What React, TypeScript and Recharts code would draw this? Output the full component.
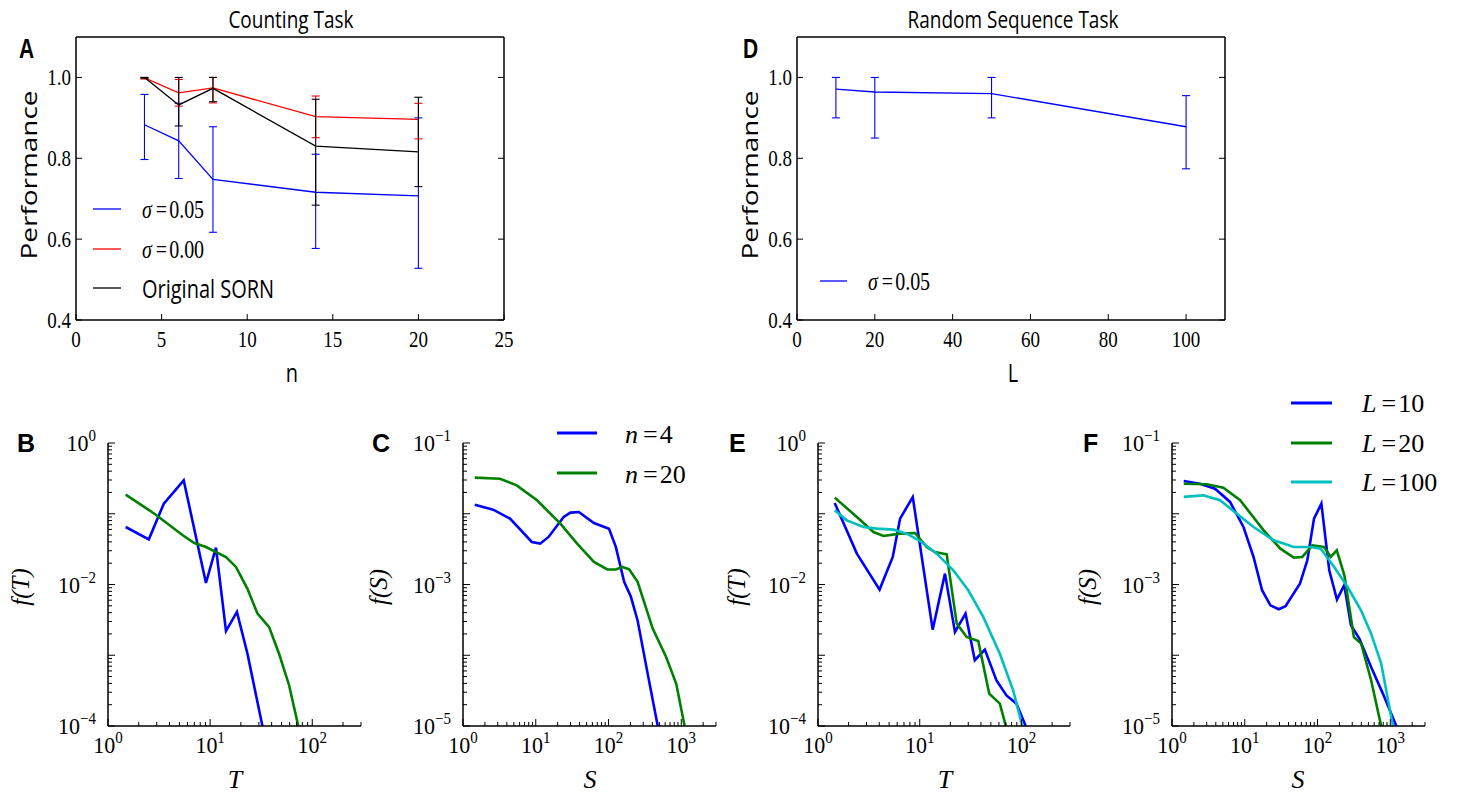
import React from 'react';
import { LineChart, Line, XAxis, YAxis, ErrorBar } from 'recharts';

const SERIF = '"Liberation Serif", "DejaVu Serif", serif';
const SANS = '"Open Sans", "DejaVu Sans", sans-serif';
const BOLD = '"Liberation Sans", Arial, sans-serif';

const BLUE = '#0000ff';
const RED = '#ff0000';
const GREEN = '#008000';
const CYAN = '#00bfbf';

// ---- panel A: counting task
const countN = [4, 6, 8, 14, 20];
const perfSigma005 = [0.883, 0.843, 0.748, 0.716, 0.707];
const errLoSigma005 = [0.086, 0.093, 0.131, 0.139, 0.179];
const errHiSigma005 = [0.075, 0.093, 0.13, 0.094, 0.193];
const perfSigma000 = [0.999, 0.962, 0.974, 0.903, 0.896];
const errLoSigma000 = [0.003, 0.033, 0.037, 0.052, 0.048];
const errHiSigma000 = [0.001, 0.033, 0.026, 0.051, 0.04];
const perfOriginal = [1.0, 0.932, 0.973, 0.83, 0.816];
const errLoOriginal = [0.002, 0.052, 0.033, 0.146, 0.086];
const errHiOriginal = [0.0, 0.068, 0.027, 0.116, 0.135];
const countTicks = [0, 5, 10, 15, 20, 25];

// ---- panel D: random sequence task
const seqL = [10, 20, 50, 100];
const perfSeq = [0.971, 0.964, 0.96, 0.878];
const errLoSeq = [0.071, 0.114, 0.06, 0.104];
const errHiSeq = [0.029, 0.036, 0.04, 0.077];
const seqTicks = [0, 20, 40, 60, 80, 100];

const perfTicks = [0.4, 0.6, 0.8, 1.0];

// ---- panel B: durations, counting
const durT_n4 = [1.49, 2.51, 3.52, 5.51, 9.1, 11.4, 14.3, 18.3, 23.2, 32.5];
const durF_n4 = [0.065, 0.0435, 0.139, 0.297, 0.0105, 0.0332, 0.0022, 0.0041, 0.00105, 0.0001];
const durT_n20 = [1.49, 2.85, 5.39, 7.0, 9.1, 14.3, 17.9, 23.2, 29.1, 37.8, 47.3, 59.2, 73];
const durF_n20 = [0.186, 0.1, 0.0496, 0.0386, 0.0339, 0.0245, 0.0177, 0.0087, 0.00387, 0.0025, 0.00105, 0.00038, 0.0001];

// ---- panel C: sizes, counting
const sizeS_n4 = [1.45, 2.6, 4.43, 8.83, 11.5, 15.0, 24.2, 30, 39.1, 63, 101.6, 126, 164, 203, 251, 345, 475];
const sizeF_n4 = [0.01345, 0.0114, 0.00853, 0.00399, 0.00378, 0.0047, 0.009, 0.01037, 0.0106, 0.0074, 0.00615, 0.0034, 0.00109, 0.00067, 0.00031, 0.000055, 0.00001];
const sizeS_n20 = [1.45, 3.22, 5.47, 10.4, 21.8, 37, 63, 96.5, 126, 155, 192, 251, 405, 619, 851, 1111];
const sizeF_n20 = [0.0324, 0.0313, 0.0252, 0.0155, 0.00724, 0.00378, 0.00209, 0.00163, 0.00163, 0.00177, 0.00164, 0.00109, 0.000238, 0.0000946, 0.0000398, 0.00001];

// ---- panel E: durations, random sequence
const durT_L10 = [1.46, 2.41, 4.03, 5.43, 6.41, 8.54, 13.4, 17.7, 22.2, 28.2, 34.8, 43.7, 56.8, 71.2, 89.3, 110];
const durF_L10 = [0.142, 0.0273, 0.00847, 0.0245, 0.0853, 0.1726, 0.0023, 0.01425, 0.00213, 0.00387, 0.00085, 0.0012, 0.00044, 0.00027, 0.000207, 0.0001];
const durT_L20 = [1.46, 2.41, 3.51, 4.4, 6.41, 9.0, 11.7, 14.1, 18.4, 23.1, 28.9, 37.6, 48.2, 61.3, 70.2];
const durF_L20 = [0.169, 0.09, 0.0552, 0.0485, 0.0524, 0.0535, 0.0339, 0.0288, 0.0267, 0.0028, 0.00181, 0.00159, 0.000287, 0.000207, 0.0001];
const durT_L100 = [1.46, 1.92, 2.8, 3.79, 5.52, 7.46, 10.1, 14.7, 21.4, 30, 42.1, 61.3, 82.8, 102];
const durF_L100 = [0.112, 0.0807, 0.065, 0.0616, 0.0596, 0.0524, 0.0412, 0.0273, 0.0159, 0.00828, 0.00348, 0.00105, 0.00032, 0.0001];

// ---- panel F: sizes, random sequence
const sizeS_L10 = [1.45, 2.42, 3.9, 6.28, 9.6, 13.2, 17.3, 22.5, 29.3, 36.3, 57.3, 72.4, 89.5, 113, 145, 185, 233, 288, 376, 545, 791, 1210];
const sizeF_L10 = [0.029, 0.0266, 0.0226, 0.0147, 0.0065, 0.00245, 0.00083, 0.000508, 0.000447, 0.000492, 0.00103, 0.0022, 0.00853, 0.0139, 0.00159, 0.00061, 0.00098, 0.000265, 0.000172, 0.0000684, 0.0000287, 0.00001];
const sizeS_L20 = [1.45, 2.99, 5.08, 8.65, 18.2, 30.9, 47.3, 61.6, 85, 123, 152, 184, 234, 316, 398, 545, 750];
const sizeF_L20 = [0.0266, 0.0261, 0.0234, 0.0155, 0.00583, 0.00321, 0.0024, 0.00245, 0.00358, 0.00339, 0.00245, 0.00304, 0.00135, 0.000181, 0.000146, 0.0000443, 0.00001];
const sizeS_L100 = [1.45, 2.69, 4.57, 7.78, 13.2, 25, 47.3, 80.5, 111, 169, 259, 396, 545, 750, 1087];
const sizeF_L100 = [0.0173, 0.0182, 0.0155, 0.01, 0.0065, 0.00421, 0.00339, 0.00339, 0.00321, 0.00177, 0.00092, 0.000432, 0.000202, 0.0000762, 0.00001];

const withErr = (xs: number[], ys: number[], lo: number[], hi: number[]) =>
  xs.map((x, i) => ({ x, y: ys[i], err: [lo[i], hi[i]] }));
const pts = (xs: number[], ys: number[]) => xs.map((x, i) => ({ x, y: ys[i] }));

// all 1..9 x 10^k ticks inside a log domain
function logTicks(lo: number, hi: number) {
  const out: number[] = [];
  for (let e = Math.floor(Math.log10(lo)); e <= Math.ceil(Math.log10(hi)); e++) {
    for (let m = 1; m < 10; m++) {
      const v = m * Math.pow(10, e);
      if (v >= lo * 0.999 && v <= hi * 1.001) out.push(v);
    }
  }
  return out;
}
const isDecade = (v: number) => Math.abs(Math.log10(v) - Math.round(Math.log10(v))) < 1e-6;
const expOf = (v: number) => Math.round(Math.log10(v));
const expStr = (v: number) => {
  const e = expOf(v);
  return e < 0 ? '\u2212' + Math.abs(e) : String(e);
};

const axisLine = { stroke: '#000', strokeWidth: 1.5 };

// --- tick renderers (inward ticks, matplotlib classic style)
const LinBottomTick = (p: any) => (
  <g>
    <line x1={p.x} x2={p.x} y1={p.y} y2={p.y - 6} stroke="#000" />
    <text transform={`translate(${p.x},${p.y + 27}) scale(1,1.25)`} textAnchor="middle" fontFamily={SERIF} fontSize={19} fill="#000">
      {p.payload.value}
    </text>
  </g>
);
const LinTopTick = (p: any) => <line x1={p.x} x2={p.x} y1={p.y} y2={p.y + 6} stroke="#000" />;
const LinLeftTick = (p: any) => (
  <g>
    <line x1={p.x} x2={p.x + 6} y1={p.y} y2={p.y} stroke="#000" />
    <text transform={`translate(${p.x - 5},${p.y + 8}) scale(1,1.25)`} textAnchor="end" fontFamily={SERIF} fontSize={19} fill="#000">
      {Number(p.payload.value).toFixed(1)}
    </text>
  </g>
);
const LinRightTick = (p: any) => <line x1={p.x} x2={p.x - 6} y1={p.y} y2={p.y} stroke="#000" />;

const LogBottomTick = (p: any) => {
  const major = isDecade(p.payload.value);
  return (
    <g>
      <line x1={p.x} x2={p.x} y1={p.y} y2={p.y - (major ? 7 : 4)} stroke="#000" />
      {major && (
        <text transform={`translate(${p.x},${p.y + 27}) scale(1,1.08)`} textAnchor="middle" fontFamily={SERIF} fontSize={22} fill="#000">
          10<tspan dy={-9} fontSize={15}>{expStr(p.payload.value)}</tspan>
        </text>
      )}
    </g>
  );
};
const LogLeftTick = (p: any) => {
  const major = isDecade(p.payload.value);
  const labelled = major && Math.abs(expOf(p.payload.value) - p.baseExp) % 2 === 0;
  return (
    <g>
      <line x1={p.x} x2={p.x + (major ? 7 : 4)} y1={p.y} y2={p.y} stroke="#000" />
      {labelled && (
        <text transform={`translate(${p.x - 12},${p.y + 8}) scale(1,1.08)`} textAnchor="end" fontFamily={SERIF} fontSize={22} fill="#000">
          10<tspan dy={-9} fontSize={15}>{expStr(p.payload.value)}</tspan>
        </text>
      )}
    </g>
  );
};

type Series = { data: any[]; color: string };

function PerfPanel({ left, width, yAxisWidth, rightMargin, xDomain, xTicks, series }: any) {
  return (
    <div style={{ position: 'absolute', left, top: 0 }}>
      <LineChart width={width} height={390} margin={{ top: 36, right: rightMargin - 1, bottom: 0, left: 0 }}>
        <XAxis xAxisId="b" dataKey="x" type="number" domain={xDomain} ticks={xTicks} interval={0} allowDataOverflow
          tickSize={0} tickMargin={0} height={70} axisLine={axisLine} tick={(p: any) => <LinBottomTick {...p} />} />
        <XAxis xAxisId="t" orientation="top" type="number" domain={xDomain} ticks={xTicks} interval={0} allowDataOverflow
          tickSize={0} tickMargin={0} height={1} axisLine={axisLine} tick={(p: any) => <LinTopTick {...p} />} />
        <YAxis yAxisId="l" type="number" domain={[0.4, 1.1]} ticks={perfTicks} interval={0} allowDataOverflow
          tickSize={0} tickMargin={0} width={yAxisWidth} axisLine={axisLine} tick={(p: any) => <LinLeftTick {...p} />} />
        <YAxis yAxisId="r" orientation="right" type="number" domain={[0.4, 1.1]} ticks={perfTicks} interval={0} allowDataOverflow
          tickSize={0} tickMargin={0} width={1} axisLine={axisLine} tick={(p: any) => <LinRightTick {...p} />} />
        {series.map((s: Series, i: number) => (
          <Line key={i} xAxisId="b" yAxisId="l" data={s.data} dataKey="y" stroke={s.color} strokeWidth={1.3}
            dot={false} activeDot={false} isAnimationActive={false}>
            <ErrorBar dataKey="err" direction="y" width={4} stroke={s.color} strokeWidth={1.1} isAnimationActive={false} />
          </Line>
        ))}
      </LineChart>
    </div>
  );
}

function LogPanel({ left, width, yAxisWidth, rightMargin, xDomain, yDomain, series }: any) {
  const baseExp = expOf(yDomain[0]);
  return (
    <div style={{ position: 'absolute', left, top: 390 }}>
      <LineChart width={width} height={403} margin={{ top: 53, right: rightMargin, bottom: 0, left: 0 }}>
        <XAxis dataKey="x" type="number" scale="log" domain={xDomain} ticks={logTicks(xDomain[0], xDomain[1])} interval={0}
          allowDataOverflow tickSize={0} tickMargin={0} height={67} axisLine={axisLine} tick={(p: any) => <LogBottomTick {...p} />} />
        <YAxis type="number" scale="log" domain={yDomain} ticks={logTicks(yDomain[0], yDomain[1])} interval={0}
          allowDataOverflow tickSize={0} tickMargin={0} width={yAxisWidth} axisLine={axisLine}
          tick={(p: any) => <LogLeftTick {...p} baseExp={baseExp} />} />
        {series.map((s: Series, i: number) => (
          <Line key={i} data={s.data} dataKey="y" stroke={s.color} strokeWidth={2.6} dot={false} activeDot={false}
            isAnimationActive={false} />
        ))}
      </LineChart>
    </div>
  );
}

const SigmaText = ({ x, y, v, size, k }: any) => (
  <text transform={`translate(${x},${y}) scale(1,${k})`} fontFamily={SERIF} fontSize={size}>
    <tspan fontStyle="italic">σ</tspan>
    <tspan dx={4}>=</tspan>
    <tspan dx={2}>{v}</tspan>
  </text>
);
const MathLegend = ({ x, y, sym, v }: any) => (
  <text x={x} y={y} fontFamily={SERIF} fontSize={26}>
    <tspan fontStyle="italic">{sym}</tspan>
    <tspan dx={5}>=</tspan>
    <tspan dx={2}>{v}</tspan>
  </text>
);

function Overlay() {
  const sansText = (x: number, y: number, s: string, size: number, k = 1.25, anchor = 'middle') => (
    <text transform={`translate(${x},${y}) scale(1,${k})`} textAnchor={anchor} fontFamily={SANS} fontSize={size}>{s}</text>
  );
  const letter = (x: number, y: number, s: string, size: number, k: number) => (
    <text transform={`translate(${x},${y}) scale(1,${k})`} fontFamily={BOLD} fontWeight="bold" fontSize={size}>{s}</text>
  );
  const rotSerif = (x: number, y: number, s: string) => (
    <text transform={`translate(${x},${y}) rotate(-90)`} textAnchor="middle" fontFamily={SERIF} fontStyle="italic" fontSize={25}>{s}</text>
  );
  const italic = (x: number, y: number, s: string) => (
    <text x={x} y={y} textAnchor="middle" fontFamily={SERIF} fontStyle="italic" fontSize={26}>{s}</text>
  );
  return (
    <svg width={1461} height={793} style={{ position: 'absolute', left: 0, top: 0, pointerEvents: 'none' }}>
      {sansText(291, 28, 'Counting Task', 19)}
      {sansText(1013, 28, 'Random Sequence Task', 19)}
      {letter(19, 58, 'A', 21, 1.3)}
      {letter(743, 58, 'D', 21, 1.3)}
      <text transform="translate(37,175) scale(1,1.27) rotate(-90)" textAnchor="middle" fontFamily={SANS} fontSize={22}>Performance</text>
      <text transform="translate(758,175) scale(1,1.27) rotate(-90)" textAnchor="middle" fontFamily={SANS} fontSize={22}>Performance</text>
      {sansText(292, 382, 'n', 20, 1.3)}
      {sansText(1013, 382, 'L', 20, 1.3)}

      {/* legend A */}
      <line x1={93} x2={121} y1={209} y2={209} stroke={BLUE} strokeWidth={1.3} />
      <line x1={93} x2={121} y1={249} y2={249} stroke={RED} strokeWidth={1.3} />
      <line x1={93} x2={121} y1={288} y2={288} stroke="#000" strokeWidth={1.3} />
      <SigmaText x={142} y={218} v="0.05" size={20} k={1.25} />
      <SigmaText x={142} y={258} v="0.00" size={20} k={1.25} />
      {sansText(142, 298, 'Original SORN', 20, 1.25, 'start')}
      {/* legend D */}
      <line x1={820} x2={847} y1={281} y2={281} stroke={BLUE} strokeWidth={1.3} />
      <SigmaText x={868} y={290} v="0.05" size={20} k={1.25} />

      {letter(17, 452, 'B', 25, 1)}
      {letter(372, 452, 'C', 25, 1)}
      {letter(729, 452, 'E', 25, 1)}
      {letter(1083, 452, 'F', 25, 1)}
      {rotSerif(29, 587, 'f(T)')}
      {rotSerif(387, 587, 'f(S)')}
      {rotSerif(745, 587, 'f(T)')}
      {rotSerif(1096, 587, 'f(S)')}
      {italic(235, 788, 'T')}
      {italic(590, 788, 'S')}
      {italic(945, 788, 'T')}
      {italic(1298, 788, 'S')}

      {/* legend C */}
      <line x1={557} x2={597} y1={433} y2={433} stroke={BLUE} strokeWidth={2.8} />
      <line x1={557} x2={597} y1={473} y2={473} stroke={GREEN} strokeWidth={2.8} />
      <MathLegend x={625} y={443} sym="n" v="4" />
      <MathLegend x={625} y={483} sym="n" v="20" />
      {/* legend F */}
      <line x1={1291} x2={1332} y1={403} y2={403} stroke={BLUE} strokeWidth={2.8} />
      <line x1={1291} x2={1332} y1={443} y2={443} stroke={GREEN} strokeWidth={2.8} />
      <line x1={1291} x2={1332} y1={482} y2={482} stroke={CYAN} strokeWidth={2.8} />
      <MathLegend x={1362} y={412} sym="L" v="10" />
      <MathLegend x={1362} y={452} sym="L" v="20" />
      <MathLegend x={1362} y={491} sym="L" v="100" />
    </svg>
  );
}

export default function App() {
  return (
    <div style={{ position: 'absolute', left: 0, top: 0, width: 1461, height: 793, background: '#fff', overflow: 'hidden' }}>
      <PerfPanel left={0} width={530} yAxisWidth={76} rightMargin={26} xDomain={[0, 25]} xTicks={countTicks}
        series={[
          { data: withErr(countN, perfSigma005, errLoSigma005, errHiSigma005), color: BLUE },
          { data: withErr(countN, perfSigma000, errLoSigma000, errHiSigma000), color: RED },
          { data: withErr(countN, perfOriginal, errLoOriginal, errHiOriginal), color: '#000' },
        ]} />
      <PerfPanel left={730} width={731} yAxisWidth={67} rightMargin={236} xDomain={[0, 110]} xTicks={seqTicks}
        series={[{ data: withErr(seqL, perfSeq, errLoSeq, errHiSeq), color: BLUE }]} />

      <LogPanel left={0} width={370} yAxisWidth={108} rightMargin={9} xDomain={[1, 300]} yDomain={[1e-4, 1]}
        series={[
          { data: pts(durT_n4, durF_n4), color: BLUE },
          { data: pts(durT_n20, durF_n20), color: GREEN },
        ]} />
      <LogPanel left={370} width={360} yAxisWidth={93} rightMargin={14} xDomain={[1, 3000]} yDomain={[1e-5, 0.1]}
        series={[
          { data: pts(sizeS_n4, sizeF_n4), color: BLUE },
          { data: pts(sizeS_n20, sizeF_n20), color: GREEN },
        ]} />
      <LogPanel left={730} width={350} yAxisWidth={88} rightMargin={10} xDomain={[1, 300]} yDomain={[1e-4, 1]}
        series={[
          { data: pts(durT_L10, durF_L10), color: BLUE },
          { data: pts(durT_L20, durF_L20), color: GREEN },
          { data: pts(durT_L100, durF_L100), color: CYAN },
        ]} />
      <LogPanel left={1080} width={381} yAxisWidth={92} rightMargin={36} xDomain={[1, 3000]} yDomain={[1e-5, 0.1]}
        series={[
          { data: pts(sizeS_L10, sizeF_L10), color: BLUE },
          { data: pts(sizeS_L20, sizeF_L20), color: GREEN },
          { data: pts(sizeS_L100, sizeF_L100), color: CYAN },
        ]} />
      <Overlay />
    </div>
  );
}
